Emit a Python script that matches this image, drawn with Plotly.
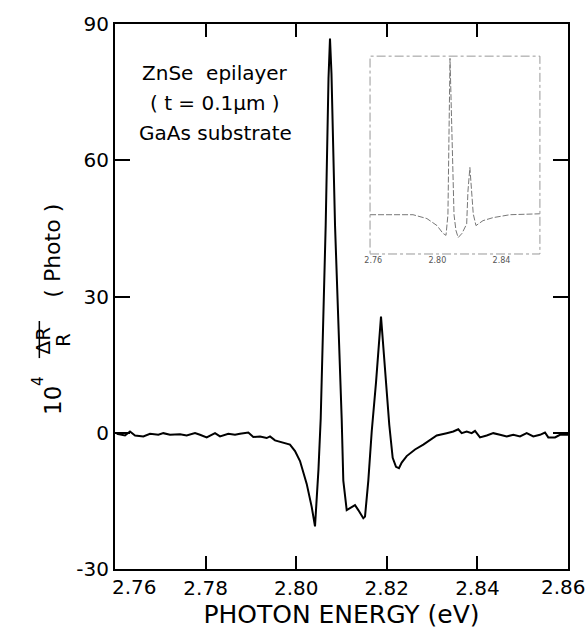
import plotly.graph_objects as go

# Photoreflectance spectrum of a ZnSe epilayer (t = 0.1 um) on GaAs
energy_ev = [
    2.76037, 2.76221, 2.76331, 2.76442, 2.76626, 2.76773, 2.76957, 2.77067,
    2.77214, 2.77435, 2.77582, 2.77766, 2.77876, 2.78024, 2.78208, 2.78318,
    2.78502, 2.78649, 2.78759, 2.78943, 2.79053, 2.79201, 2.79349, 2.79422,
    2.79532, 2.79680, 2.79863, 2.79974, 2.80084, 2.80232, 2.80342, 2.80415,
    2.80492, 2.80541, 2.80651, 2.80713, 2.80746, 2.80779, 2.80857, 2.81004,
    2.81040, 2.81115, 2.81187, 2.81298, 2.81371, 2.81481, 2.81519, 2.81592,
    2.81667, 2.81762, 2.81872, 2.81982, 2.82055, 2.82130, 2.82203, 2.82269,
    2.82329, 2.82439, 2.82623, 2.82806, 2.82954, 2.83102, 2.83322, 2.83468,
    2.83578, 2.83653, 2.83764, 2.83874, 2.83947, 2.84057, 2.84205, 2.84351,
    2.84499, 2.84647, 2.84792, 2.84940, 2.85088, 2.85234, 2.85382, 2.85492,
    2.85565, 2.85713, 2.85823, 2.86007,
]
delta_r_over_r = [
    -0.23, -0.59, 0.27, -0.59, -0.81, -0.23, -0.45, -0.09,
    -0.45, -0.31, -0.59, -0.09, -0.45, -1.03, -0.09, -0.81,
    -0.23, -0.45, -0.23, 0.05, -0.95, -0.81, -1.17, -0.81,
    -1.68, -2.11, -2.61, -4.05, -6.22, -11.26, -16.31, -20.63,
    -8.0, 3.15, 45.7, 78.0, 86.8, 79.0, 45.7, 3.15,
    -10.54, -17.03, -16.67, -15.95, -17.03, -18.83, -18.47, -10.54,
    0.27, 11.08, 25.6, 11.08, 1.71, -5.5, -7.51, -7.8,
    -6.58, -5.14, -3.69, -2.61, -1.53, -0.59, -0.09, 0.27,
    0.77, -0.09, 0.27, -0.09, 0.41, -1.03, -0.59, -0.09,
    -0.45, -0.81, -0.45, -0.81, -0.09, -0.81, -0.45, 0.05,
    -1.03, -1.03, -0.45, -0.45,
]

# Wide-range survey spectrum shown in the inset
inset_energy_ev = [
    2.7580, 2.7705, 2.7848, 2.7935, 2.7998, 2.8035, 2.8054, 2.8066,
    2.8079, 2.8104, 2.8116, 2.8130, 2.8154, 2.8183, 2.8191, 2.8203,
    2.8224, 2.8241, 2.8285, 2.8347, 2.8453, 2.8640,
]
inset_signal = [
    0.0, 0.0, 0.0, -2.1, -5.9, -10.1, -11.2, 0.0,
    84.8, 0.0, -8.5, -12.4, -10.1, -5.0, 12.8, 25.6,
    0.5, -5.9, -3.2, -1.6, 0.0, 0.5,
]

x_ticks = [2.76, 2.78, 2.80, 2.82, 2.84, 2.86]
x_tick_labels = ["2.76", "2.78", "2.80", "2.82", "2.84", "2.86"]
y_ticks = [-30, 0, 30, 60, 90]
y_tick_labels = ["-30", "0", "30", "60", "90"]
inset_ticks = [2.76, 2.80, 2.84]
inset_tick_labels = ["2.76", "2.80", "2.84"]

FONT = "DejaVu Sans"
TICK_SIZE = 20

fig = go.Figure()
fig.add_trace(go.Scatter(
    x=energy_ev, y=delta_r_over_r, mode="lines",
    line=dict(color="black", width=2), showlegend=False, hoverinfo="skip",
))
fig.add_trace(go.Scatter(
    x=inset_energy_ev, y=inset_signal, mode="lines", xaxis="x2", yaxis="y2",
    line=dict(color="#777777", width=1, dash="6px,2px"), showlegend=False,
    hoverinfo="skip",
))

# The end labels of the energy axis sit inside the frame, so the axis
# prints only the inner ones and the two ends are placed separately.
axis_text = [""] + x_tick_labels[1:-1] + [""]

fig.update_layout(
    width=587, height=636,
    margin=dict(l=115, r=19, t=15, b=66),
    paper_bgcolor="white", plot_bgcolor="white",
    font=dict(family=FONT, color="black"),
    xaxis=dict(
        range=[2.7599999, 2.8600001], tickvals=x_ticks, ticktext=axis_text,
        ticks="inside", ticklen=13, tickwidth=1.5, tickcolor="black",
        showline=True, linewidth=2, linecolor="black", mirror="allticks",
        showgrid=False, zeroline=False, tickfont=dict(size=TICK_SIZE),
        title=dict(text="PHOTON ENERGY (eV)", font=dict(size=25), standoff=6),
    ),
    yaxis=dict(
        range=[-30, 90], tickvals=y_ticks, ticktext=y_tick_labels,
        ticks="inside", ticklen=15, tickwidth=1.5, tickcolor="black",
        showline=True, linewidth=2, linecolor="black", mirror="allticks",
        showgrid=False, zeroline=False, tickfont=dict(size=TICK_SIZE),
    ),
    xaxis2=dict(
        domain=[0.563, 0.938], anchor="y2", range=[2.758, 2.864],
        tickvals=inset_ticks, ticktext=inset_tick_labels,
        ticks="", showline=False, showgrid=False, zeroline=False,
        tickfont=dict(size=8, color="#555555"),
    ),
    yaxis2=dict(
        domain=[0.578, 0.941], anchor="x2", range=[-21.3, 86],
        showticklabels=False, ticks="", showline=False, showgrid=False,
        zeroline=False,
    ),
)

for val, lab, shift in [(x_ticks[0], x_tick_labels[0], 19),
                        (x_ticks[-1], x_tick_labels[-1], -5)]:
    fig.add_annotation(
        text=lab, x=val, xref="x", y=0, yref="paper", yanchor="top",
        xanchor="center", xshift=shift, yshift=-4, showarrow=False,
        font=dict(size=TICK_SIZE),
    )

# Inset frame drawn as a broken grey rectangle
fig.add_shape(
    type="rect", xref="x2 domain", yref="y2 domain", x0=0, x1=1, y0=0, y1=1,
    line=dict(color="#999999", width=1, dash="dashdot"),
)

# Sample description
for txt, yy in [("ZnSe  epilayer", 0.91), ("( t = 0.1\u03bcm )", 0.855),
                ("GaAs substrate", 0.80)]:
    fig.add_annotation(
        text=txt, xref="paper", yref="paper", x=0.221, y=yy, showarrow=False,
        font=dict(size=20, family=FONT), xanchor="center", yanchor="middle",
    )

# Vertical axis title: 10^4 (dR/R) (Photo), built from rotated pieces
title_x = -0.170
fig.add_annotation(text="10", xref="paper", yref="paper", x=title_x, y=0.28,
                   textangle=-90, showarrow=False, font=dict(size=23))
fig.add_annotation(text="4", xref="paper", yref="paper", x=title_x - 0.024,
                   y=0.345, textangle=-90, showarrow=False, font=dict(size=15))
fig.add_annotation(text="\u0394R", xref="paper", yref="paper",
                   x=title_x - 0.019, y=0.42, textangle=-90, showarrow=False,
                   font=dict(size=20))
fig.add_annotation(text="R", xref="paper", yref="paper", x=title_x + 0.024,
                   y=0.42, textangle=-90, showarrow=False, font=dict(size=20))
fig.add_shape(type="line", xref="paper", yref="paper", x0=title_x + 0.003,
              x1=title_x + 0.003, y0=0.387, y1=0.455,
              line=dict(color="black", width=1.5))
fig.add_annotation(text="( Photo )", xref="paper", yref="paper", x=title_x,
                   y=0.585, textangle=-90, showarrow=False, font=dict(size=22))

fig.write_html("out.html")
